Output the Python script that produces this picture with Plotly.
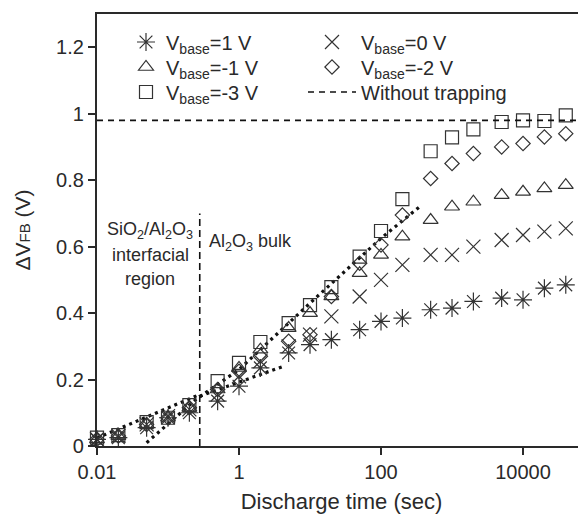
import plotly.graph_objects as go

# ---------------- data ----------------
t = [0.01, 0.02, 0.05, 0.1, 0.2, 0.5, 1, 2, 5, 10, 20, 50, 100, 200, 500,
     1000, 2000, 5000, 10000, 20000, 40000]

v_p1 = [0.020, 0.025, 0.055, 0.085, 0.100, 0.135, 0.180, 0.235, 0.280, 0.305, 0.320,
        0.350, 0.375, 0.385, 0.410, 0.415, 0.435, 0.445, 0.440, 0.475, 0.485]
v_0 = [0.020, 0.030, 0.065, 0.090, 0.110, 0.155, 0.210, 0.255, 0.300, 0.335, 0.390,
       0.450, 0.500, 0.545, 0.575, 0.575, 0.600, 0.620, 0.635, 0.645, 0.655]
v_m1 = [0.020, 0.030, 0.065, 0.085, 0.115, 0.170, 0.235, 0.290, 0.355, 0.400, 0.450,
        0.520, 0.575, 0.630, 0.680, 0.720, 0.735, 0.755, 0.765, 0.775, 0.785]
v_m2 = [0.020, 0.030, 0.065, 0.085, 0.115, 0.170, 0.225, 0.270, 0.315, 0.335, 0.450,
        0.550, 0.605, 0.695, 0.805, 0.850, 0.880, 0.900, 0.910, 0.930, 0.940]
v_m3 = [0.025, 0.033, 0.072, 0.085, 0.123, 0.195, 0.250, 0.313, 0.370, 0.424, 0.478,
        0.570, 0.647, 0.743, 0.887, 0.929, 0.953, 0.975, 0.980, 0.978, 0.995]

no_trap_t = [0.01, 100000]
no_trap_v = [0.98, 0.98]

boundary_t = [0.28, 0.28]
boundary_v = [0.0, 0.70]

fit_int_hi_t = [0.01, 0.28]
fit_int_hi_v = [0.024, 0.155]
fit_int_lo_t = [0.05, 0.28]
fit_int_lo_v = [0.010, 0.150]
fit_bulk_hi_t = [0.28, 1, 10, 100, 350]
fit_bulk_hi_v = [0.148, 0.230, 0.430, 0.625, 0.720]
fit_bulk_lo_t = [0.28, 4]
fit_bulk_lo_v = [0.150, 0.238]

INK = "#2a2a2a"
FONT = "Liberation Sans, Arial, Helvetica, sans-serif"

# page body has an 8px default margin: size the figure so the plot lands where the reference has it
OFF = 8
W, H = 586 - OFF, 514 - OFF
ML, MT, MB, MR = 97 - OFF, 14 - OFF, 68, 0
PW = W - ML - MR
PH = H - MT - MB
PLOT_LEFT, PLOT_BOTTOM = 97, 446   # page pixels


def px_x(px):
    return (px - PLOT_LEFT) / PW


def px_y(py):
    return (PLOT_BOTTOM - py) / PH


# legend grid: (legend id, column x, row y) in page pixels
COL1_X, COL2_X = 126, 303
ROW_Y = [42, 67, 92]

series = [
    ("V<sub>base</sub>=1 V", v_p1, "asterisk-open", 15, "legend", COL1_X, ROW_Y[0], 30),
    ("V<sub>base</sub>=0 V", v_0, "x-thin-open", 14, "legend2", COL2_X, ROW_Y[0], 48),
    ("V<sub>base</sub>=-1 V", v_m1, "triangle-up-open", 13, "legend3", COL1_X, ROW_Y[1], 30),
    ("V<sub>base</sub>=-2 V", v_m2, "diamond-open", 11, "legend4", COL2_X, ROW_Y[1], 48),
    ("V<sub>base</sub>=-3 V", v_m3, "square-open", 13, "legend5", COL1_X, ROW_Y[2], 30),
]

fig = go.Figure()

# fit lines (dotted)
for ft, fv in [(fit_int_hi_t, fit_int_hi_v), (fit_int_lo_t, fit_int_lo_v),
               (fit_bulk_hi_t, fit_bulk_hi_v), (fit_bulk_lo_t, fit_bulk_lo_v)]:
    fig.add_trace(go.Scatter(x=ft, y=fv, mode="lines", showlegend=False,
                             line=dict(color="#111", width=3.2, dash="3px,4px"),
                             hoverinfo="skip"))

# region boundary
fig.add_trace(go.Scatter(x=boundary_t, y=boundary_v, mode="lines", showlegend=False,
                         line=dict(color="#111", width=1.6, dash="7px,4px")))

leg_font = dict(size=20, color=INK, family=FONT)
legends = {}
for name, vals, sym, size, lg, lx, ly, iw in series:
    fig.add_trace(go.Scatter(
        x=t, y=vals, mode="markers", name=name, legend=lg, cliponaxis=False,
        marker=dict(symbol=sym, size=size, color="#333",
                    line=dict(color="#333", width=1.2))))
    legends[lg] = dict(x=px_x(lx), y=px_y(ly), xanchor="left", yanchor="middle",
                       bgcolor="rgba(0,0,0,0)", font=leg_font, itemwidth=iw)

fig.add_trace(go.Scatter(x=no_trap_t, y=no_trap_v, mode="lines", name="Without trapping",
                         legend="legend6",
                         line=dict(color="#111", width=1.6, dash="6px,5px")))
legends["legend6"] = dict(x=px_x(COL2_X), y=px_y(ROW_Y[2]), xanchor="left", yanchor="middle",
                          bgcolor="rgba(0,0,0,0)", font=leg_font, itemwidth=48)

fig.update_xaxes(type="log", range=[-2, 4.887], tickvals=[0.01, 1, 100, 10000],
                 ticktext=["0.01", "1", "100", "10000"],
                 showgrid=False, zeroline=False, showline=True, linewidth=2.2, linecolor=INK,
                 mirror=True, automargin=False,
                 ticks="outside", ticklen=7, tickwidth=1.5, tickcolor=INK,
                 tickfont=dict(size=20, color=INK, family=FONT),
                 title=dict(text="Discharge time (sec)", font=dict(size=22, color=INK, family=FONT),
                            standoff=12))
fig.update_yaxes(range=[0, 1.3], tickvals=[0, 0.2, 0.4, 0.6, 0.8, 1, 1.2],
                 ticktext=["0", "0.2", "0.4", "0.6", "0.8", "1", "1.2"],
                 showgrid=False, zeroline=False, showline=True, linewidth=2.2, linecolor=INK,
                 automargin=False,
                 ticks="outside", ticklen=7, tickwidth=1.5, tickcolor=INK,
                 tickfont=dict(size=20, color=INK, family=FONT),
                 title=dict(text="ΔV<span style='font-size:15px'>FB</span> (V)",
                            font=dict(size=21, color=INK, family=FONT), standoff=20))

ann_font = dict(size=18, color=INK, family=FONT)
fig.add_annotation(x=-1.25, y=0.65, xref="x", yref="y", text="SiO<sub>2</sub>/Al<sub>2</sub>O<sub>3</sub>",
                   showarrow=False, font=ann_font, xanchor="center")
fig.add_annotation(x=-1.25, y=0.574, xref="x", yref="y", text="interfacial",
                   showarrow=False, font=ann_font, xanchor="center")
fig.add_annotation(x=-1.25, y=0.502, xref="x", yref="y", text="region",
                   showarrow=False, font=ann_font, xanchor="center")
fig.add_annotation(x=-0.45, y=0.613, xref="x", yref="y", text="Al<sub>2</sub>O<sub>3</sub> bulk",
                   showarrow=False, font=ann_font, xanchor="left")

fig.update_layout(
    width=W, height=H,
    margin=dict(l=ML, r=MR, t=MT, b=MB, autoexpand=False),
    paper_bgcolor="white", plot_bgcolor="white",
    font=dict(family=FONT, color=INK),
    **legends,
)

fig.write_html("out.html")
